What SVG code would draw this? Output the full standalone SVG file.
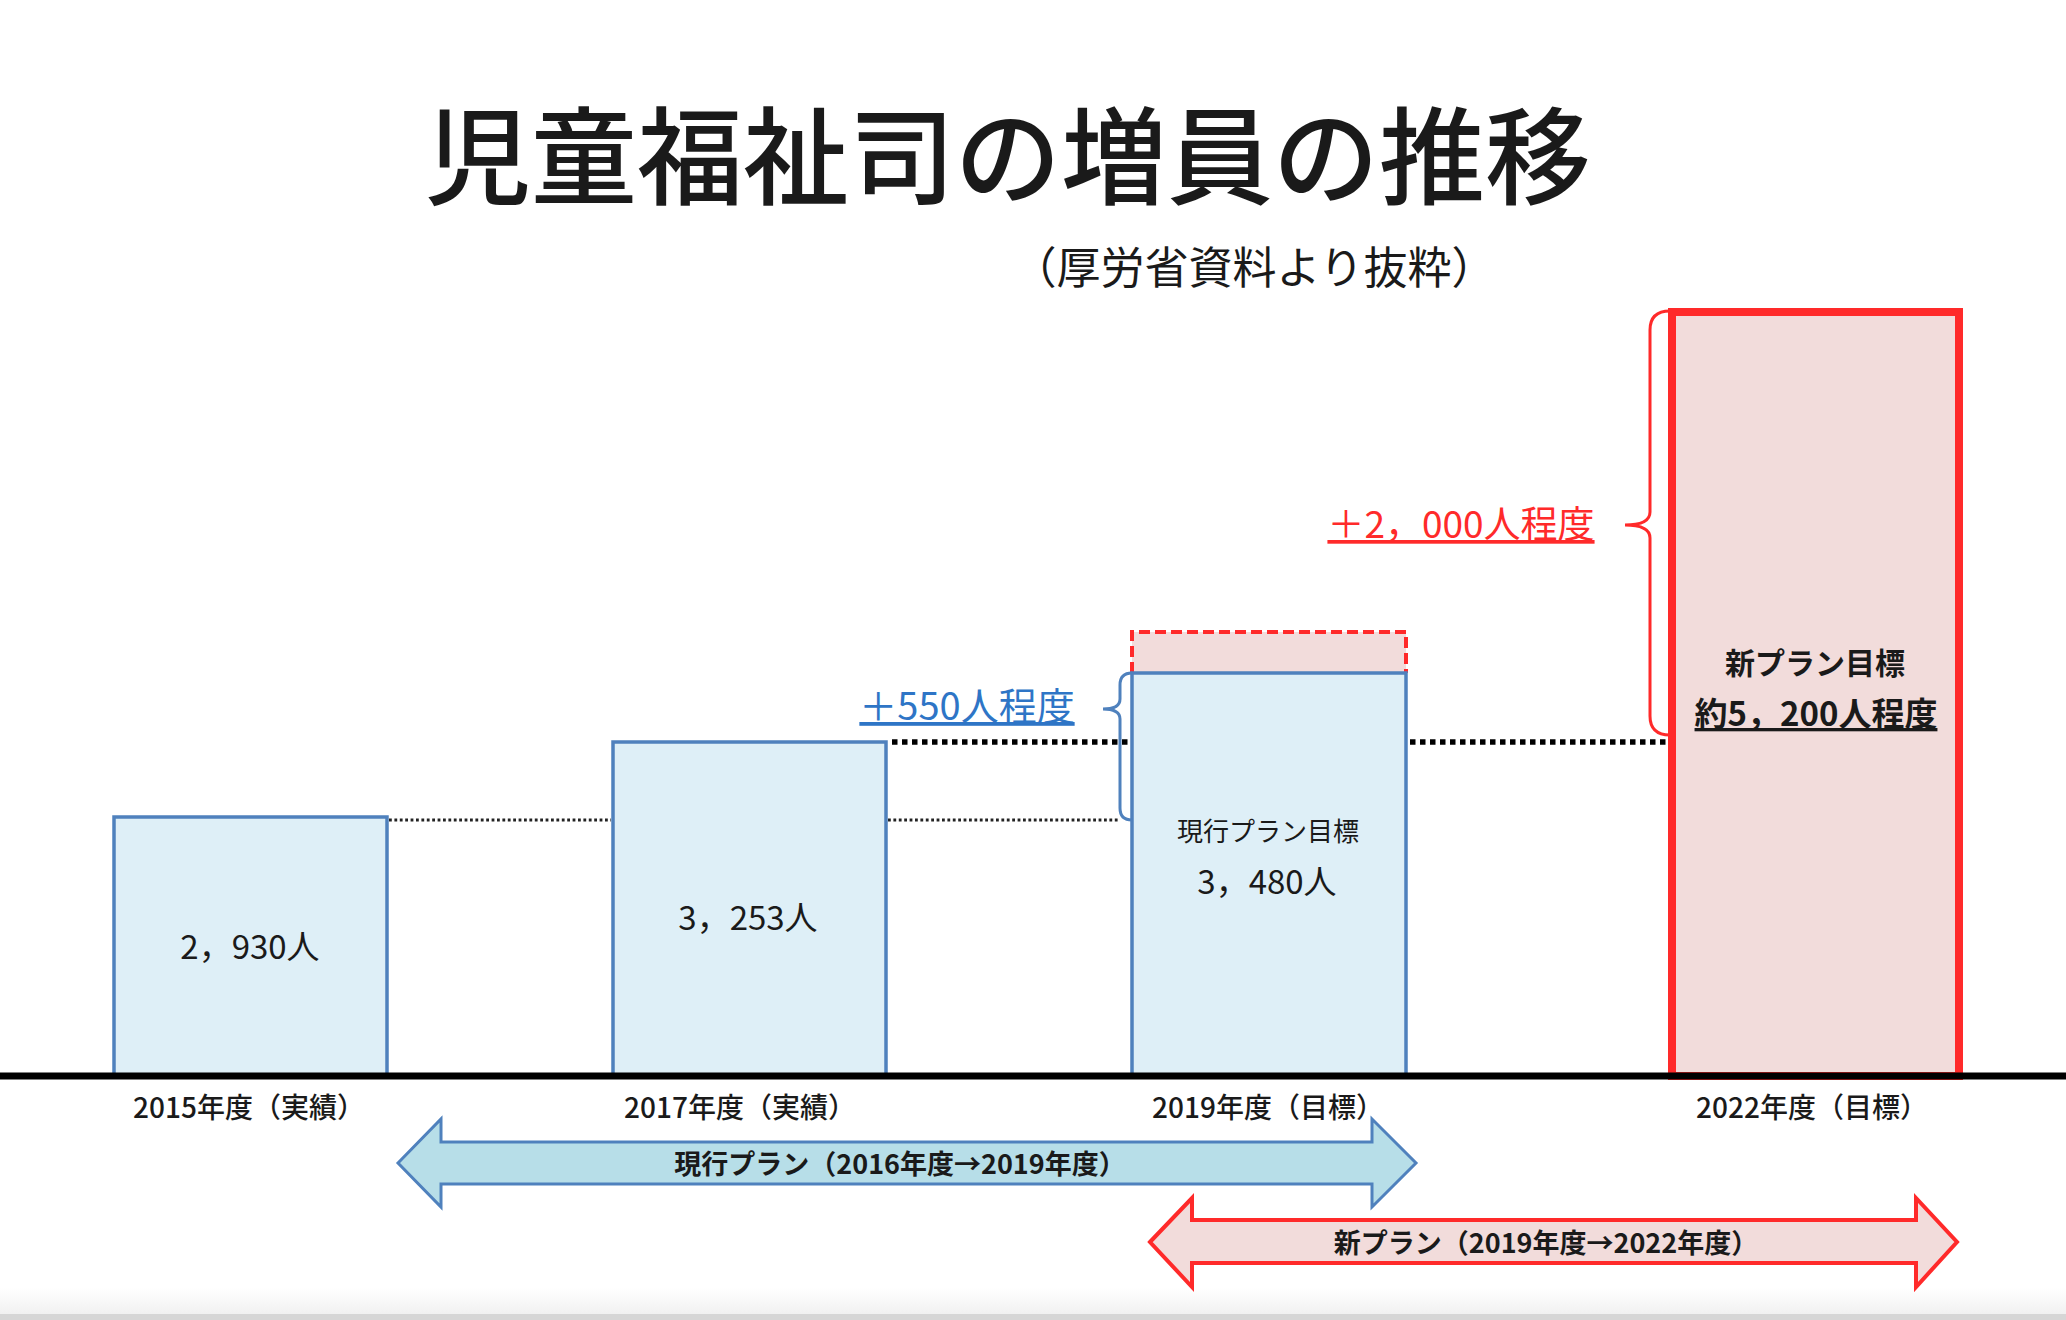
<svg xmlns="http://www.w3.org/2000/svg" width="2066" height="1320" viewBox="0 0 2066 1320">
  <defs>
    <linearGradient id="bottomFade" x1="0" y1="0" x2="0" y2="1">
      <stop offset="0" stop-color="#FFFFFF"/>
      <stop offset="1" stop-color="#F1F1F1"/>
    </linearGradient>
  </defs>
  <style>
    text { font-family: "Noto Sans CJK JP", "Noto Sans CJK SC", "Noto Sans", sans-serif; fill: #1A1A1A; }
    .bar-blue { fill: #DEEFF7; stroke: #4F81BD; stroke-width: 3.5; }
    .bar-red { fill: #F2DCDB; stroke: #FF2A2A; stroke-width: 8; }
    .dash-red { fill: #F2DCDB; stroke: none; }
    .dash-red-line { fill: none; stroke: #FF2A2A; stroke-width: 4; stroke-dasharray: 11 5; }
    .dot-thin { stroke: #222222; stroke-width: 2.8; stroke-dasharray: 2.8 2.6; fill: none; }
    .dot-thick { stroke: #000000; stroke-width: 5.5; stroke-dasharray: 5.5 4.5; fill: none; }
    .brace-blue { fill: none; stroke: #4F81BD; stroke-width: 3; }
    .brace-red { fill: none; stroke: #FF2A2A; stroke-width: 3; }
    .axis-label { font-size: 28px; font-weight: 500; text-anchor: middle; }
    .val { font-size: 33px; text-anchor: middle; }
    .arrow-blue { fill: #B7DEE8; stroke: #4F81BD; stroke-width: 3; stroke-linejoin: miter; }
    .arrow-red { fill: #F2DCDB; stroke: #FF2A2A; stroke-width: 4; stroke-linejoin: miter; }
    .arrow-label { font-size: 27px; font-weight: bold; text-anchor: middle; }
  </style>

  <rect x="0" y="0" width="2066" height="1320" fill="#FFFFFF"/>
  <rect x="0" y="1288" width="2066" height="26" fill="url(#bottomFade)"/>
  <rect x="0" y="1314" width="2066" height="6" fill="#D6D6D6"/>

  <g id="title">
    <text x="1008" y="196" style="font-size:106px; font-weight:500; text-anchor:middle;">児童福祉司の増員の推移</text>
  </g>
  <g id="subtitle">
    <text x="1254" y="284" style="font-size:44px; text-anchor:middle;">（厚労省資料より抜粋）</text>
  </g>

  <g id="bar-2015">
    <rect class="bar-blue" x="114" y="817" width="273" height="259"/>
    <text class="val" x="250" y="959">2，930人</text>
  </g>

  <g id="bar-2017">
    <rect class="bar-blue" x="613" y="742" width="273" height="334"/>
    <text class="val" x="748" y="930">3，253人</text>
  </g>

  <g id="bar-2019">
    <rect class="dash-red" x="1132" y="632" width="274" height="41"/>
    <path class="dash-red-line" d="M1132,673 V632 H1406 V673"/>
    <rect class="bar-blue" x="1132" y="673" width="274" height="403"/>
    <text x="1268" y="841" style="font-size:26px; text-anchor:middle;">現行プラン目標</text>
    <text class="val" x="1267" y="894">3，480人</text>
  </g>

  <g id="bar-2022">
    <rect class="bar-red" x="1672" y="312" width="287" height="764"/>
    <text x="1815" y="674" style="font-size:30px; font-weight:bold; text-anchor:middle;">新プラン目標</text>
    <text x="1816" y="726" style="font-size:33px; font-weight:bold; text-anchor:middle; text-decoration:underline;">約5，200人程度</text>
  </g>

  <g id="connectors">
    <line class="dot-thin" x1="389" y1="820" x2="611" y2="820"/>
    <line class="dot-thin" x1="888" y1="820" x2="1120" y2="820"/>
    <line class="dot-thick" x1="892" y1="742" x2="1130" y2="742"/>
    <line class="dot-thick" x1="1410" y1="742" x2="1666" y2="742"/>
    <path class="brace-blue" d="M1132,673 Q1120,673 1120,685 L1120,699 Q1120,709 1103,709 Q1120,709 1120,719 L1120,808 Q1120,820 1132,820"/>
    <path class="brace-red" d="M1670,311 Q1650,311 1650,330 L1650,512 Q1650,525 1625,525 Q1650,525 1650,538 L1650,716 Q1650,735 1670,735"/>
  </g>

  <g id="increase-550">
    <text x="967" y="720" style="font-size:38px; fill:#2E75C6; text-anchor:middle; text-decoration:underline;">＋550人程度</text>
  </g>
  <g id="increase-2000">
    <text x="1461" y="538" style="font-size:37px; fill:#FF2A2A; text-anchor:middle; text-decoration:underline;">＋2，000人程度</text>
  </g>

  <g id="axis">
    <line x1="0" y1="1076" x2="2066" y2="1076" stroke="#000000" stroke-width="7"/>
    <text class="axis-label" x="249" y="1118">2015年度（実績）</text>
    <text class="axis-label" x="740" y="1118">2017年度（実績）</text>
    <text class="axis-label" x="1268" y="1118">2019年度（目標）</text>
    <text class="axis-label" x="1812" y="1118">2022年度（目標）</text>
  </g>

  <g id="plan-current">
    <path class="arrow-blue" d="M398,1163 L441,1119 L441,1142 L1372,1142 L1372,1119 L1416,1163 L1372,1207 L1372,1184 L441,1184 L441,1207 Z"/>
    <text class="arrow-label" x="900" y="1174">現行プラン（2016年度→2019年度）</text>
  </g>

  <g id="plan-new">
    <path class="arrow-red" d="M1150,1242 L1192,1198 L1192,1220 L1916,1220 L1916,1198 L1957,1242 L1916,1287 L1916,1263 L1192,1263 L1192,1287 Z"/>
    <text class="arrow-label" x="1546" y="1253">新プラン（2019年度→2022年度）</text>
  </g>
</svg>
